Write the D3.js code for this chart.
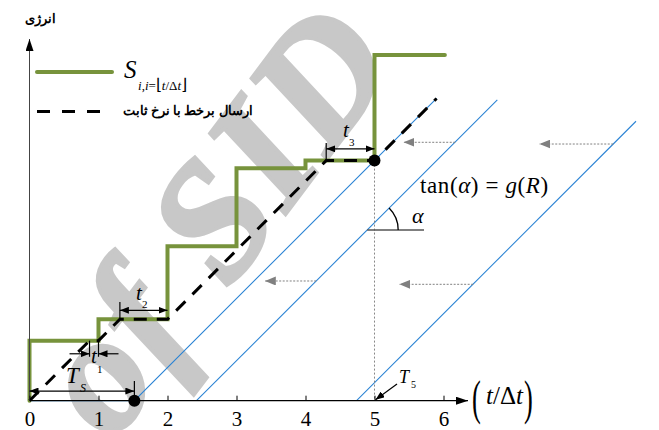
<!DOCTYPE html>
<html>
<head>
<meta charset="utf-8">
<script src="https://cdn.jsdelivr.net/npm/d3@7"></script>
<style>
  body { margin: 0; background: #fff; }
  text { font-family: "Liberation Serif", serif; }
</style>
</head>
<body>
<svg id="chart" width="659" height="430"></svg>
<script>
// energy S in each slot [i, i+1)
const slotLevels = [0.87, 1.18, 2.24, 3.37, 3.48, 5.01];
const xTicks = [0, 1, 2, 3, 4, 5, 6];
// online sending with constant rate (dashed)
const sendPts = [[0, 0], [0.87, 0.87], [1, 0.87], [1.31, 1.18], [2, 1.18], [4.30, 3.48], [5, 3.48], [5.90, 4.38]];
// shifted lines with slope tan(alpha)
const line1 = [[0, 0], [1.52, 0], [5.90, 4.38]];
const line2 = [[2.42, 0], [6.78, 4.36]];
const line3 = [[4.74, 0], [8.79, 4.05]];
const dots = [[1.52, 0], [5, 3.48]];
// dotted gray arrows: from x, to x, y
const shiftArrows = [[6.17, 5.42, 3.745], [8.46, 7.39, 3.72], [4.155, 3.41, 1.735], [6.43, 5.36, 1.687]];
// spans: x0, x1, y
const spanTs = [0, 1.52, 0.14];
const spanT1 = [0.87, 1, 0.68];
const spanT2 = [1.31, 2, 1.31];
const spanT3 = [4.30, 5, 3.65];

const green = "#77933c";
const blue = "#2a83d4";

var svg = d3.select("#chart");
var x = d3.scaleLinear().domain([0, 6]).range([29.5, 443.5]);
var y = d3.scaleLinear().domain([0, 5]).range([400.7, 55.7]);

const defs = svg.append("defs");
function marker(id, color, w, h) {
    defs.append("marker").attr("id", id)
        .attr("viewBox", `0 0 ${w} ${h}`)
        .attr("refX", w).attr("refY", h / 2)
        .attr("markerWidth", w).attr("markerHeight", h)
        .attr("markerUnits", "userSpaceOnUse")
        .attr("orient", "auto-start-reverse")
        .append("path").attr("d", `M0,0L${w},${h / 2}L0,${h}Z`).attr("fill", color);
}
marker("arrBlack", "#000", 9, 7);
marker("arrGray", "#808080", 11, 9);
marker("axisHead", "#000", 12, 8);

// watermark
svg.append("text")
    .attr("transform", "translate(214,218) rotate(-53)")
    .attr("text-anchor", "middle")
    .attr("dy", "0.33em")
    .attr("font-size", 166)
    .attr("letter-spacing", 4)
    .attr("font-style", "italic")
    .attr("font-weight", "bold")
    .attr("fill", "#c8c8c8")
    .attr("stroke", "#c8c8c8")
    .attr("stroke-width", 4)
    .text("of SID");

const lineGen = d3.line().x(d => x(d[0])).y(d => y(d[1]));

// blue shifted lines
[line1, line2, line3].forEach(l => {
    svg.append("path").attr("d", lineGen(l))
        .attr("fill", "none").attr("stroke", blue).attr("stroke-width", 1.1);
});

// dotted vertical at t=5
svg.append("line")
    .attr("x1", x(5)).attr("x2", x(5)).attr("y1", y(3.48)).attr("y2", y(0))
    .attr("stroke", "#888").attr("stroke-width", 1).attr("stroke-dasharray", "2,2");

// gray shift arrows
shiftArrows.forEach(a => {
    svg.append("line")
        .attr("x1", x(a[0])).attr("x2", x(a[1])).attr("y1", y(a[2])).attr("y2", y(a[2]))
        .attr("stroke", "#808080").attr("stroke-width", 1).attr("stroke-dasharray", "2,1.5")
        .attr("marker-end", "url(#arrGray)");
});

// staircase S
var stairPts = [[0, 0]].concat(slotLevels.map((v, i) => [i, v])).concat([[6.02, slotLevels[slotLevels.length - 1]]]);
svg.append("path")
    .attr("d", d3.line().x(d => x(d[0])).y(d => y(d[1])).curve(d3.curveStepAfter)(stairPts))
    .attr("fill", "none").attr("stroke", green).attr("stroke-width", 4)
    .attr("stroke-linecap", "round").attr("stroke-linejoin", "miter");

// dashed sending curve
svg.append("path").attr("d", lineGen(sendPts))
    .attr("fill", "none").attr("stroke", "#000").attr("stroke-width", 3)
    .attr("stroke-dasharray", "13,10");

// dots
svg.selectAll(".dot").data(dots).enter().append("circle")
    .attr("cx", d => x(d[0])).attr("cy", d => y(d[1])).attr("r", 6).attr("fill", "#000");

// axes
svg.append("line")
    .attr("x1", x(0)).attr("x2", 468).attr("y1", y(0)).attr("y2", y(0))
    .attr("stroke", "#000").attr("stroke-width", 1.3).attr("marker-end", "url(#axisHead)");
defs.append("marker").attr("id", "yHead").attr("viewBox", "0 0 12 8").attr("refX", 12).attr("refY", 4)
    .attr("markerWidth", 12).attr("markerHeight", 8).attr("markerUnits", "userSpaceOnUse").attr("orient", "auto")
    .append("path").attr("d", "M0,0L12,4L0,8Z").attr("fill", "#000");
svg.append("line")
    .attr("x1", x(0)).attr("x2", x(0)).attr("y1", y(0)).attr("y2", 39)
    .attr("stroke", "#444").attr("stroke-width", 1).attr("marker-end", "url(#yHead)");

var xAxis = d3.axisBottom(x).tickValues(xTicks).tickSize(-5).tickPadding(10).tickFormat(d3.format("d"));
var gx = svg.append("g").attr("transform", `translate(0,${y(0)})`).call(xAxis);
gx.select(".domain").remove();
gx.selectAll(".tick line").attr("stroke", "#000");
gx.selectAll(".tick text").attr("font-family", "Liberation Serif").attr("font-size", 21).attr("fill", "#000");

// x label (t/Δt)
svg.append("text").attr("transform", "translate(472,414) scale(0.55,1)").attr("font-size", 48).text("(");
svg.append("text").attr("x", 486).attr("y", 404).attr("font-size", 25)
    .html('<tspan font-style="italic">t</tspan>/Δ<tspan font-style="italic">t</tspan>');
svg.append("text").attr("transform", "translate(524,414) scale(0.55,1)").attr("font-size", 48).text(")");

// y title
svg.append("text").attr("x", 25).attr("y", 23)
    .attr("font-family", "DejaVu Sans").attr("font-weight", "bold").attr("font-size", 13)
    .text("انرژی");

// legend
svg.append("line").attr("x1", 37).attr("x2", 112).attr("y1", 72).attr("y2", 72)
    .attr("stroke", green).attr("stroke-width", 4).attr("stroke-linecap", "round");
svg.append("text").attr("x", 124).attr("y", 78).attr("font-size", 25).attr("font-style", "italic").text("S");
svg.append("text").attr("x", 138).attr("y", 90).attr("font-size", 13)
    .html('<tspan font-style="italic">i</tspan>,<tspan font-style="italic">i</tspan>=<tspan font-size="16">⌊</tspan><tspan font-style="italic">t</tspan>/Δ<tspan font-style="italic">t</tspan><tspan font-size="16">⌋</tspan>');
svg.append("line").attr("x1", 37).attr("x2", 100).attr("y1", 111.5).attr("y2", 111.5)
    .attr("stroke", "#000").attr("stroke-width", 3).attr("stroke-dasharray", "13,12");
svg.append("text").attr("x", 123).attr("y", 115)
    .attr("font-family", "DejaVu Sans").attr("font-weight", "bold").attr("font-size", 12.5)
    .text("ارسال برخط با نرخ ثابت");

// annotations
function mathLabel(px, py, main, sub, size, subSize, dx, dy) {
    svg.append("text").attr("x", px).attr("y", py).attr("font-size", size).attr("font-style", "italic").text(main);
    svg.append("text").attr("x", px + dx).attr("y", py + dy).attr("font-size", subSize)
        .attr("font-style", sub.match(/[A-Z]/) ? "italic" : "normal").text(sub);
}
function span(s, tickAt, tickTop, tickBot) {
    svg.append("line")
        .attr("x1", x(s[0])).attr("x2", x(s[1])).attr("y1", y(s[2])).attr("y2", y(s[2]))
        .attr("stroke", "#000").attr("stroke-width", 1.2)
        .attr("marker-start", "url(#arrBlack)").attr("marker-end", "url(#arrBlack)");
    svg.append("line")
        .attr("x1", x(tickAt)).attr("x2", x(tickAt)).attr("y1", tickTop).attr("y2", tickBot)
        .attr("stroke", "#000").attr("stroke-width", 1.2);
}
span(spanTs, spanTs[1], 381, 396);
span(spanT2, spanT2[0], 302, 319);
span(spanT3, spanT3[0], 143, 160);

// t1: two inward arrows
[[spanT1[0], -20], [spanT1[1], 20]].forEach(p => {
    svg.append("line")
        .attr("x1", x(p[0]) + p[1]).attr("x2", x(p[0])).attr("y1", y(spanT1[2])).attr("y2", y(spanT1[2]))
        .attr("stroke", "#000").attr("stroke-width", 1.2).attr("marker-end", "url(#arrBlack)");
    svg.append("line")
        .attr("x1", x(p[0])).attr("x2", x(p[0])).attr("y1", y(slotLevels[0])).attr("y2", y(spanT1[2]) + 3)
        .attr("stroke", "#000").attr("stroke-width", 1.2);
});

mathLabel(66, 383, "T", "S", 23, 12, 14, 9);
mathLabel(91, 363, "t", "1", 21, 11, 6, 10);
mathLabel(136, 300, "t", "2", 21, 11, 6, 8);
mathLabel(343, 137, "t", "3", 21, 11, 6, 9);
mathLabel(399, 383, "T", "5", 18, 10, 12, 5);

// T5 arrow
svg.append("line").attr("x1", 397).attr("y1", 384).attr("x2", x(5) + 1).attr("y2", y(0) - 1)
    .attr("stroke", "#000").attr("stroke-width", 1.2).attr("marker-end", "url(#arrBlack)");

// alpha
var ay = 2.474;
var ax = line2[0][0] + ay;
svg.append("line").attr("x1", x(ax)).attr("x2", 424).attr("y1", y(ay)).attr("y2", y(ay))
    .attr("stroke", "#555").attr("stroke-width", 1.5);
var arc = d3.arc().innerRadius(31).outerRadius(31).startAngle(Math.PI / 4).endAngle(Math.PI / 2);
svg.append("path").attr("d", arc()).attr("transform", `translate(${x(ax)},${y(ay)})`)
    .attr("fill", "none").attr("stroke", "#000").attr("stroke-width", 1.3);
svg.append("text").attr("x", 412).attr("y", 223).attr("font-size", 22).attr("font-style", "italic").text("α");

svg.append("text").attr("x", 420).attr("y", 193).attr("font-size", 23).attr("letter-spacing", 0.6)
    .html('tan(<tspan font-style="italic">α</tspan>) = <tspan font-style="italic">g</tspan>(<tspan font-style="italic">R</tspan>)');
</script>
</body>
</html>
